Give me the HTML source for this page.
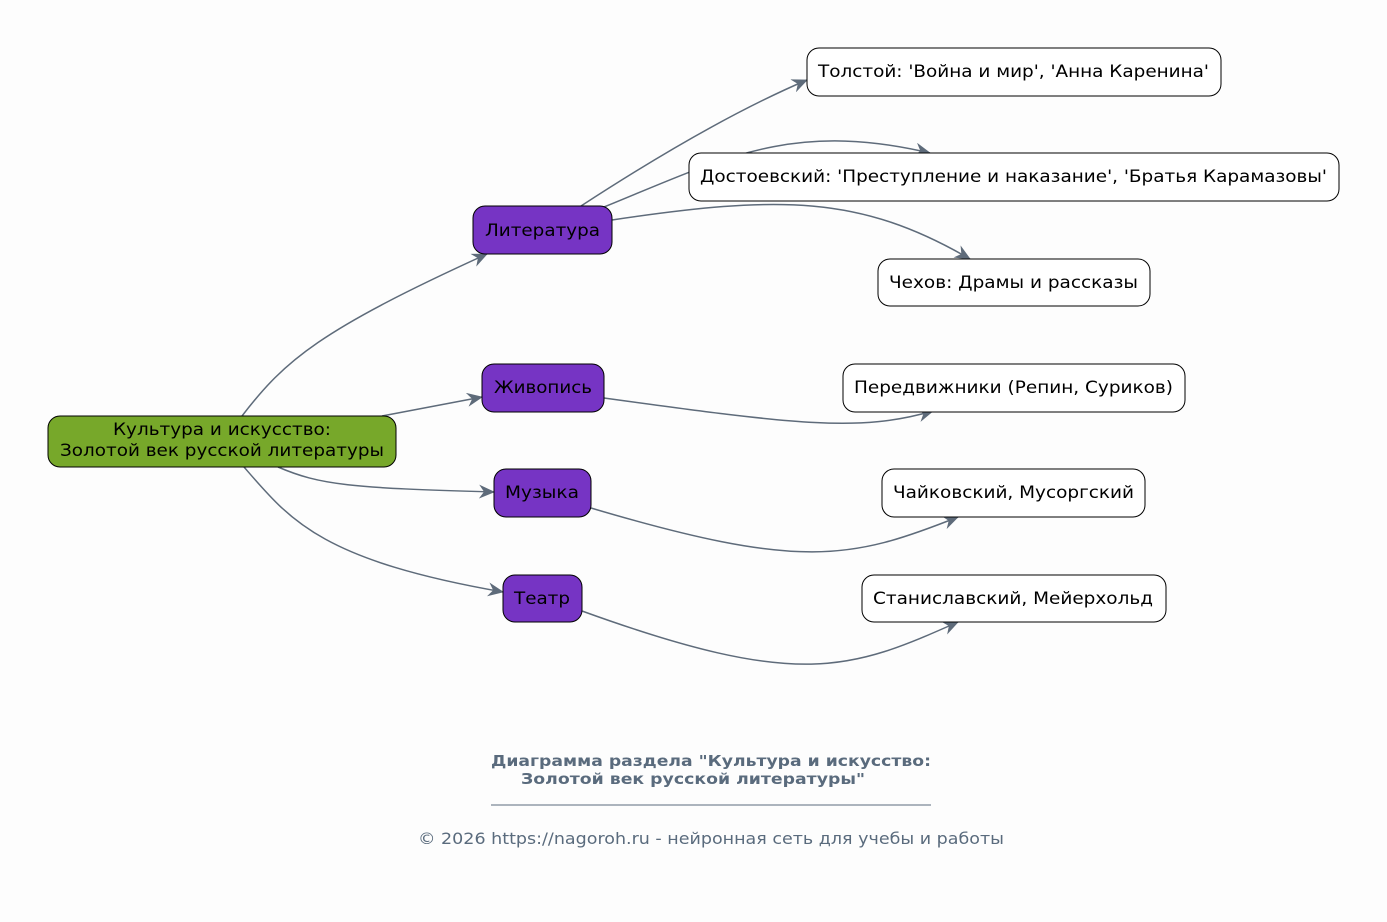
<!DOCTYPE html>
<html><head><meta charset="utf-8"><style>
html,body{margin:0;padding:0;background:#fdfdfd;}
svg{display:block;font-family:"DejaVu Sans","Liberation Sans",sans-serif;}
</style></head><body>
<svg width="1387" height="922" viewBox="0 0 1387 922" xmlns="http://www.w3.org/2000/svg">
<defs>
<marker id="a" viewBox="0 0 16 14" refX="15" refY="7" markerWidth="16" markerHeight="14" markerUnits="userSpaceOnUse" orient="auto">
<path d="M0,0 L16,7 L0,14 L5,7 Z" fill="#5e6b7a"/>
</marker>
</defs>
<rect width="1387" height="922" fill="#fdfdfd"/>
<g fill="none" stroke="#5e6b7a" stroke-width="1.5" marker-end="url(#a)">
<path d="M242,416 C285,360 320,330 487,254"/>
<path d="M382,416 L482,397"/>
<path d="M278,467 C320,485 350,488 494,492"/>
<path d="M244,467 C290,520 320,560 503,592"/>
<path d="M581,206 C690,135 760,100 807,80"/>
<path d="M604,207 C720,160 790,120 930,153"/>
<path d="M612,220 C780,195 860,195 970,259"/>
<path d="M604,398 C800,425 860,432 933,411"/>
<path d="M591,508 C800,570 850,560 958,517"/>
<path d="M582,611 C800,690 850,670 958,622"/>
</g>
<g stroke="#000" stroke-width="1">
<rect x="48" y="416" width="348" height="51" rx="12" fill="#77a82a"/>
<rect x="473" y="206" width="139" height="48" rx="12" fill="#7634c4"/>
<rect x="482" y="364" width="122" height="48" rx="12" fill="#7634c4"/>
<rect x="494" y="469" width="97" height="48" rx="12" fill="#7634c4"/>
<rect x="503" y="575" width="79" height="47" rx="12" fill="#7634c4"/>
<rect x="807" y="48" width="414" height="48" rx="12" fill="#fff"/>
<rect x="689" y="153" width="650" height="48" rx="12" fill="#fff"/>
<rect x="878" y="259" width="272" height="47" rx="12" fill="#fff"/>
<rect x="843" y="364" width="342" height="48" rx="12" fill="#fff"/>
<rect x="882" y="469" width="263" height="48" rx="12" fill="#fff"/>
<rect x="862" y="575" width="304" height="47" rx="12" fill="#fff"/>
</g>
<g font-size="17" fill="#000" lengthAdjust="spacingAndGlyphs">
<text x="113" y="435" textLength="218" lengthAdjust="spacingAndGlyphs">Культура и искусство:</text>
<text x="60" y="456" textLength="324" lengthAdjust="spacingAndGlyphs">Золотой век русской литературы</text>
<text x="485" y="236" textLength="115" lengthAdjust="spacingAndGlyphs">Литература</text>
<text x="494" y="393" textLength="98" lengthAdjust="spacingAndGlyphs">Живопись</text>
<text x="505" y="498" textLength="74" lengthAdjust="spacingAndGlyphs">Музыка</text>
<text x="514" y="604" textLength="56" lengthAdjust="spacingAndGlyphs">Театр</text>
<text x="818" y="77" textLength="391" lengthAdjust="spacingAndGlyphs">Толстой: 'Война и мир', 'Анна Каренина'</text>
<text x="700" y="182" textLength="627" lengthAdjust="spacingAndGlyphs">Достоевский: 'Преступление и наказание', 'Братья Карамазовы'</text>
<text x="889" y="288" textLength="249" lengthAdjust="spacingAndGlyphs">Чехов: Драмы и рассказы</text>
<text x="854" y="393" textLength="319" lengthAdjust="spacingAndGlyphs">Передвижники (Репин, Суриков)</text>
<text x="893" y="498" textLength="241" lengthAdjust="spacingAndGlyphs">Чайковский, Мусоргский</text>
<text x="873" y="604" textLength="280" lengthAdjust="spacingAndGlyphs">Станиславский, Мейерхольд</text>
</g>
<g fill="#5a6b7d" font-size="15">
<text x="491" y="766" font-weight="bold" textLength="440" lengthAdjust="spacingAndGlyphs">Диаграмма раздела "Культура и искусство:</text>
<text x="521" y="784" font-weight="bold" textLength="344" lengthAdjust="spacingAndGlyphs">Золотой век русской литературы"</text>
<line x1="491" y1="805" x2="931" y2="805" stroke="#5a6b7d" stroke-width="1"/>
<text x="418" y="844" font-size="16" textLength="586" lengthAdjust="spacingAndGlyphs">© 2026 https://nagoroh.ru - нейронная сеть для учебы и работы</text>
</g>
</svg>
</body></html>
